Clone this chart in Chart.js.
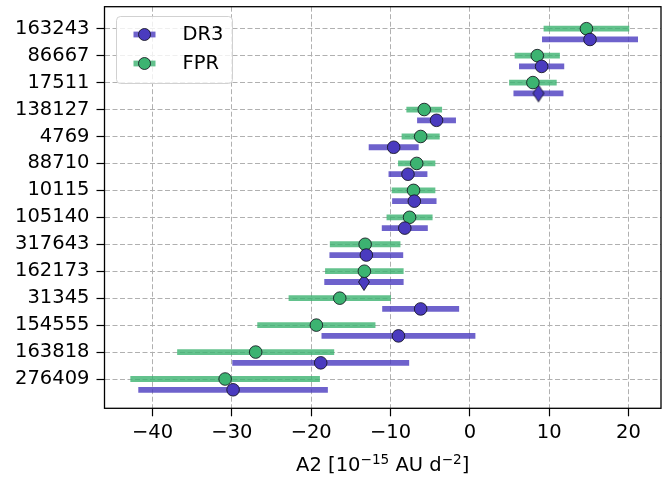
<!DOCTYPE html>
<html>
<head>
<meta charset="utf-8">
<script src="https://cdn.jsdelivr.net/npm/chart.js@4.4.0/dist/chart.umd.min.js"></script>
<style>
  html, body { margin: 0; padding: 0; background: #fff; }
  #wrap { width: 662px; height: 479px; }
</style>
</head>
<body>
<div id="wrap"><canvas id="chart" width="662" height="479"></canvas></div>
<script>
// A2 estimates per object, FPR and DR3, with 1-sigma errors
const stars = ['163243', '86667', '17511', '138127', '4769', '88710', '10115',
               '105140', '317643', '162173', '31345', '154555', '163818', '276409'];
const fprA2  = [14.7, 8.5, 7.95, -5.75, -6.2, -6.7, -7.1, -7.6, -13.2, -13.3, -16.4, -19.35, -27.0, -30.85];
const fprErr = [5.4, 2.85, 3.0, 2.25, 2.4, 2.35, 2.75, 2.9, 4.45, 4.95, 6.45, 7.45, 9.9, 11.95];
const dr3A2  = [15.15, 9.05, 8.65, -4.2, -9.6, -7.8, -7.0, -8.2, -13.05, -13.35, -6.2, -9.0, -18.8, -29.85];
const dr3Err = [6.05, 2.85, 3.15, 2.45, 3.15, 2.45, 2.8, 2.9, 4.65, 5.0, 4.85, 9.7, 11.15, 11.95];
const dr3Flagged = ['17511', '162173'];   // DR3 points drawn as thin diamonds
const xTicks = [-40, -30, -20, -10, 0, 10, 20];

const PURPLE = '#4a3bbf';
const PURPLE_BAR = 'rgba(74, 59, 191, 0.8)';
const GREEN = '#3cb371';
const GREEN_BAR = 'rgba(60, 179, 113, 0.8)';
const EDGE = 'rgba(20, 20, 30, 0.85)';
const FONT = '"DejaVu Sans", sans-serif';
const FS = 19.5;
const DR3_SHIFT = 0.4;

function thinDiamond(color) {
  const c = document.createElement('canvas');
  c.width = 14; c.height = 20;
  const g = c.getContext('2d');
  g.beginPath();
  g.moveTo(7, 1.5); g.lineTo(12.5, 10); g.lineTo(7, 18.5); g.lineTo(1.5, 10);
  g.closePath();
  g.fillStyle = color; g.fill();
  g.lineWidth = 1; g.strokeStyle = EDGE; g.stroke();
  return c;
}

function series(vals, errs, shift, keep) {
  const data = [], e = [];
  vals.forEach((v, i) => {
    if (!keep(stars[i])) return;
    data.push({ x: v, y: i + shift });
    e.push(errs[i]);
  });
  return { data, errs: e };
}

const dr3Round = series(dr3A2, dr3Err, DR3_SHIFT, s => !dr3Flagged.includes(s));
const dr3Diam  = series(dr3A2, dr3Err, DR3_SHIFT, s => dr3Flagged.includes(s));
const fpr      = series(fprA2, fprErr, 0, () => true);

// horizontal error bars, drawn just under each dataset's markers
const errorBars = {
  id: 'errorBars',
  beforeDatasetDraw(chart, args) {
    const ds = chart.data.datasets[args.index];
    if (!ds.errs) return;
    const { ctx, scales: { x, y } } = chart;
    ctx.save();
    ctx.lineWidth = 5.8;
    ctx.lineCap = 'butt';
    ctx.strokeStyle = ds.barColor;
    ds.data.forEach((p, i) => {
      const py = y.getPixelForValue(p.y);
      ctx.beginPath();
      ctx.moveTo(x.getPixelForValue(p.x - ds.errs[i]), py);
      ctx.lineTo(x.getPixelForValue(p.x + ds.errs[i]), py);
      ctx.stroke();
    });
    ctx.restore();
  }
};

const frameLegendTitle = {
  id: 'frameLegendTitle',
  afterDatasetsDraw(chart) {
    const { ctx, chartArea: a } = chart;
    ctx.save();
    ctx.strokeStyle = '#000';
    ctx.lineWidth = 1.3;
    ctx.strokeRect(a.left, a.top, a.right - a.left, a.bottom - a.top);
    ctx.restore();
  },
  afterDraw(chart) {
    const { ctx, chartArea: a } = chart;
    ctx.save();

    // legend box
    const bx = 116.5, by = 16.5, bw = 116, bh = 67;
    ctx.beginPath();
    ctx.roundRect(bx, by, bw, bh, 4);
    ctx.fillStyle = 'rgba(255,255,255,0.8)';
    ctx.fill();
    ctx.strokeStyle = 'rgba(204,204,204,0.9)';
    ctx.lineWidth = 1;
    ctx.stroke();

    const items = chart.data.datasets.filter(d => d.legendLabel);
    ctx.font = FS + 'px ' + FONT;
    ctx.textBaseline = 'middle';
    ctx.textAlign = 'left';
    items.forEach((d, i) => {
      const cy = 34.5 + i * 29;
      ctx.strokeStyle = d.barColor;
      ctx.lineWidth = 5.8;
      ctx.beginPath();
      ctx.moveTo(133.5, cy); ctx.lineTo(155.5, cy);
      ctx.stroke();
      ctx.beginPath();
      ctx.arc(144.5, cy, 6, 0, Math.PI * 2);
      ctx.fillStyle = d.backgroundColor;
      ctx.fill();
      ctx.lineWidth = 1;
      ctx.strokeStyle = EDGE;
      ctx.stroke();
      ctx.fillStyle = '#000';
      ctx.fillText(d.legendLabel, 182.5, cy + 0.5);
    });

    // x axis title with superscripts
    const parts = [['A2 [10', 0], ['\u221215', 1], [' AU d', 0], ['\u22122', 1], [']', 0]];
    const fontFor = sup => (sup ? FS * 0.7 : FS) + 'px ' + FONT;
    let total = 0;
    parts.forEach(([t, sup]) => { ctx.font = fontFor(sup); total += ctx.measureText(t).width; });
    let tx = (a.left + a.right) / 2 - total / 2;
    const base = 471;
    ctx.textBaseline = 'alphabetic';
    ctx.fillStyle = '#000';
    parts.forEach(([t, sup]) => {
      ctx.font = fontFor(sup);
      ctx.fillText(t, tx, sup ? base - 7.5 : base);
      tx += ctx.measureText(t).width;
    });
    ctx.restore();
  }
};

const gridCommon = {
  color: '#b0b0b0',
  lineWidth: 1,
  tickLength: 8,
  tickColor: '#000',
  tickWidth: 1.2,
  tickBorderDash: []
};

new Chart(document.getElementById('chart'), {
  type: 'scatter',
  plugins: [errorBars, frameLegendTitle],
  data: {
    datasets: [
      {
        legendLabel: 'DR3',
        data: dr3Round.data,
        errs: dr3Round.errs,
        barColor: PURPLE_BAR,
        backgroundColor: PURPLE,
        borderColor: EDGE,
        borderWidth: 1,
        pointRadius: 6.3
      },
      {
        legendLabel: 'FPR',
        data: fpr.data,
        errs: fpr.errs,
        barColor: GREEN_BAR,
        backgroundColor: GREEN,
        borderColor: EDGE,
        borderWidth: 1,
        pointRadius: 6.3
      },
      {
        data: dr3Diam.data,
        errs: dr3Diam.errs,
        barColor: PURPLE_BAR,
        backgroundColor: PURPLE,
        pointStyle: thinDiamond(PURPLE),
        pointRadius: 7
      }
    ]
  },
  options: {
    responsive: false,
    animation: false,
    devicePixelRatio: 1,
    events: [],
    layout: { autoPadding: false, padding: { top: 6.7, right: 1, left: 0, bottom: 0 } },
    plugins: { legend: { display: false }, tooltip: { enabled: false } },
    scales: {
      x: {
        type: 'linear',
        min: -46.06,
        max: 24.1,
        afterBuildTicks: s => { s.ticks = xTicks.map(v => ({ value: v })); },
        afterFit: s => { s.height = 70.7; s.paddingLeft = 0; s.paddingRight = 0; },
        ticks: {
          color: '#000',
          font: { family: FONT, size: FS },
          padding: 5,
          maxRotation: 0,
          autoSkip: false,
          callback: v => (v < 0 ? '\u2212' + Math.abs(v) : String(v))
        },
        grid: gridCommon,
        border: { display: false, dash: [5, 2.5] }
      },
      y: {
        type: 'linear',
        reverse: true,
        min: -0.816,
        max: 14.087,
        afterBuildTicks: s => { s.ticks = stars.map((_, i) => ({ value: i })); },
        afterFit: s => { s.width = 104.5; s.paddingTop = 0; s.paddingBottom = 0; },
        ticks: {
          color: '#000',
          font: { family: FONT, size: FS },
          padding: 7,
          autoSkip: false,
          callback: v => stars[v]
        },
        grid: gridCommon,
        border: { display: false, dash: [5, 2.5] }
      }
    }
  }
});
</script>
</body>
</html>
